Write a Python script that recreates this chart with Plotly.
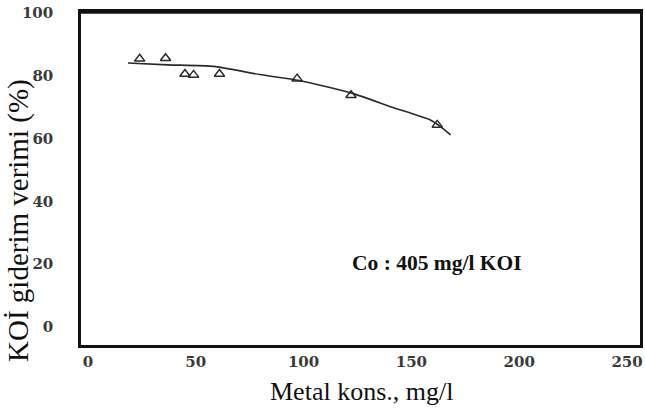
import plotly.graph_objects as go

# Measured COD removal efficiency vs. metal concentration
metal_conc = [24, 36, 45, 49, 61, 97, 122, 162]
removal_pct = [85.3, 85.5, 80.5, 80.2, 80.5, 79.0, 73.7, 64.3]

# Hand-fitted trend line through the measurements
trend_x = [18.6, 37, 58.3, 79.7, 98, 122.4, 140.7, 159, 163.6, 168.2]
trend_y = [84.0, 83.4, 82.9, 80.3, 78.4, 74.4, 70.0, 65.8, 63.7, 61.1]

x_ticks = [0, 50, 100, 150, 200, 250]
y_ticks = [0, 20, 40, 60, 80, 100]

serif = "Liberation Serif, Times New Roman, serif"
tick_serif = "DejaVu Serif, serif"
ink = "#2a2a2a"

fig = go.Figure()

fig.add_trace(go.Scatter(
    x=trend_x, y=trend_y, mode="lines",
    line=dict(color=ink, width=1.6, shape="spline", smoothing=0.6),
    showlegend=False, hoverinfo="skip",
))

fig.add_trace(go.Scatter(
    x=metal_conc, y=removal_pct, mode="markers",
    marker=dict(symbol="triangle-up-open", size=9, color=ink,
                line=dict(width=1.5, color=ink)),
    showlegend=False,
))

fig.update_layout(
    width=645, height=412,
    margin=dict(l=81, r=2, t=12, b=67),
    paper_bgcolor="white", plot_bgcolor="white",
    font=dict(family=serif, color=ink),
    xaxis=dict(
        range=[-3.2, 256], tickvals=x_ticks, ticktext=[str(v) for v in x_ticks],
        showgrid=False, zeroline=False, ticks="",
        showline=True, linecolor="#111", linewidth=2.5, mirror=True,
        tickfont=dict(family=tick_serif, size=15, color="#3a3a3a", weight="bold"),
        ticklabelstandoff=1,
    ),
    yaxis=dict(
        range=[-5.7, 100.2], tickvals=y_ticks, ticktext=[str(v) for v in y_ticks],
        showgrid=False, zeroline=False, ticks="",
        showline=True, linecolor="#111", linewidth=2.5, mirror=True,
        tickfont=dict(family=tick_serif, size=15, color="#3a3a3a", weight="bold"),
        ticklabelstandoff=22,
    ),
    annotations=[
        dict(text="Co : 405 mg/l KOI", x=162, y=20.5, xref="x", yref="y",
             showarrow=False, font=dict(family=serif, size=21.5, color="#111", weight="bold")),
        dict(text="Metal kons., mg/l", x=0.502, y=-0.141, xref="paper", yref="paper",
             xanchor="center", yanchor="middle", showarrow=False,
             font=dict(family=serif, size=26, color="#111")),
        dict(text="KOİ giderim verimi (%)", x=-0.113, y=0.375, xref="paper", yref="paper",
             xanchor="center", yanchor="middle", textangle=-90, showarrow=False,
             font=dict(family=serif, size=29, color="#111")),
    ],
)

# Heavier top border of the frame
fig.add_shape(type="line", xref="paper", yref="paper", x0=0, x1=1, y0=1, y1=1,
              line=dict(color="#111", width=3.5))

fig.write_html("out.html")
